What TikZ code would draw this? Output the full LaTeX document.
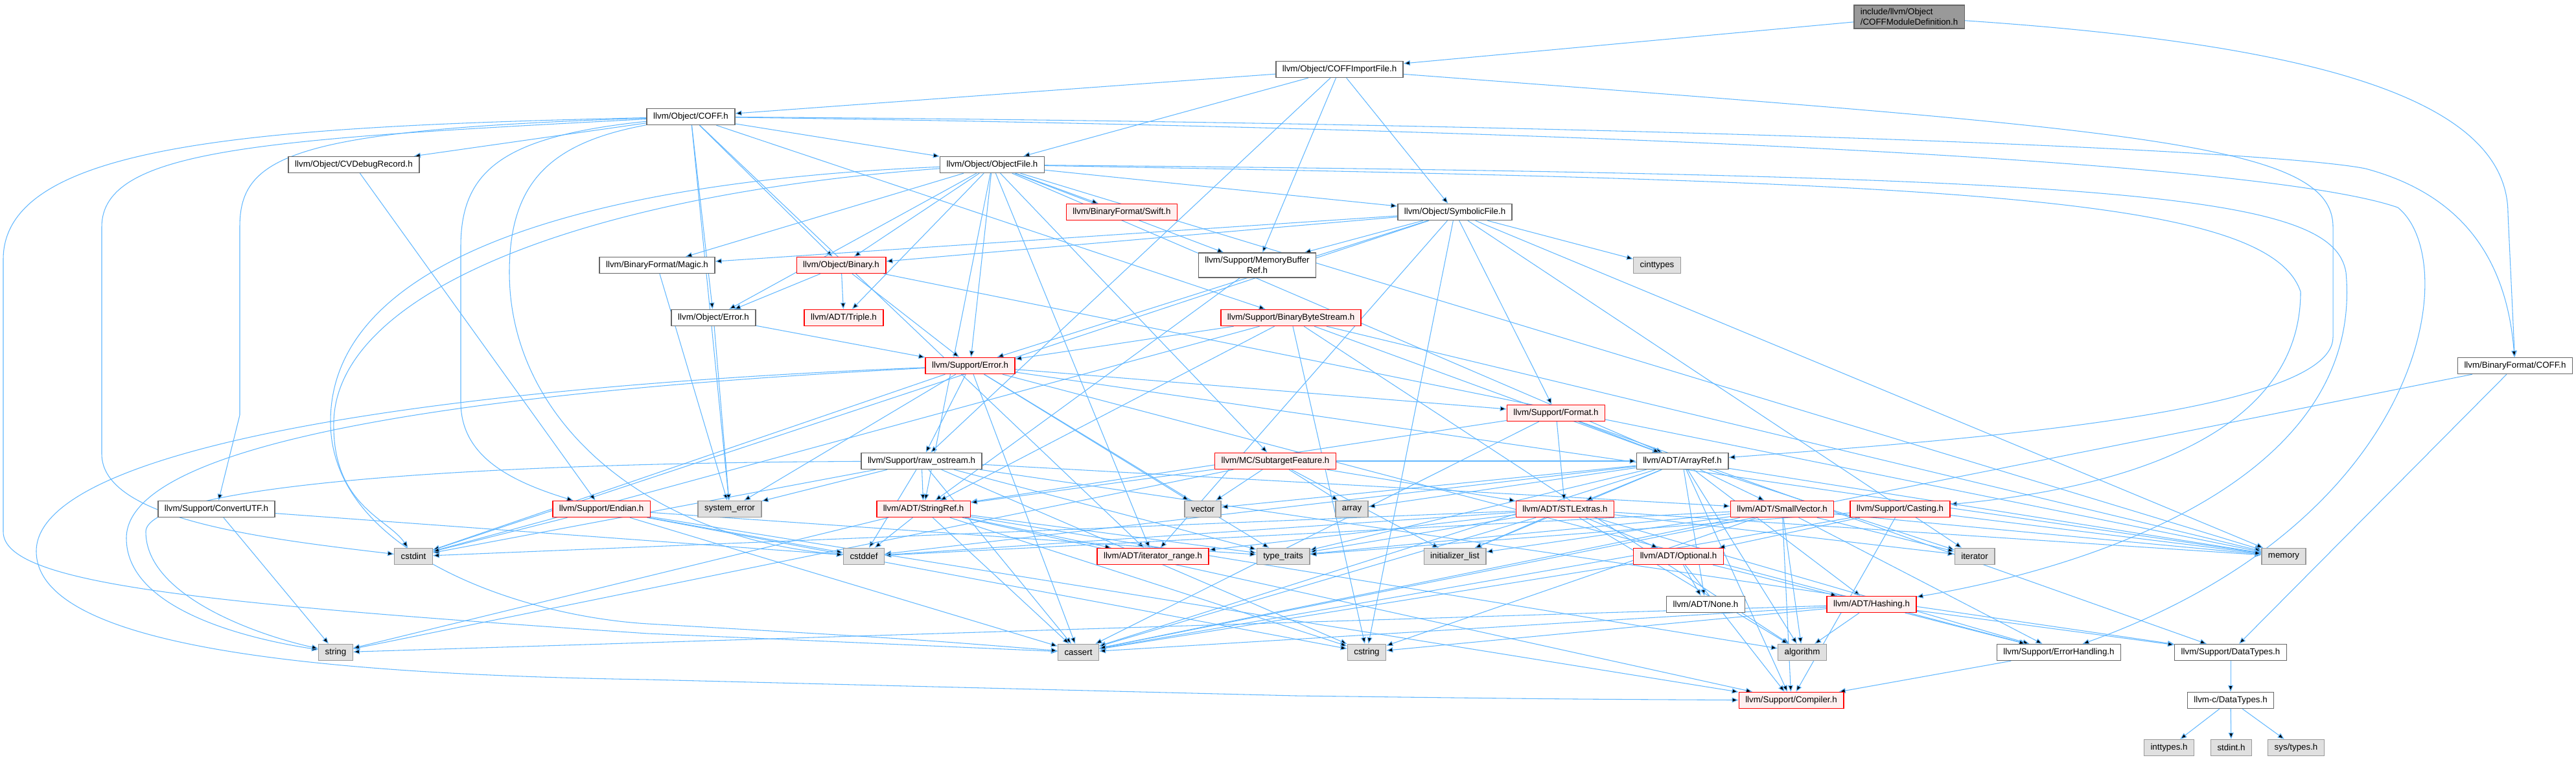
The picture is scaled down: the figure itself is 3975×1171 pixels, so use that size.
\documentclass[tikz,border=0pt]{standalone}
\usepackage{fontspec}
\setmainfont{Liberation Sans}
\usetikzlibrary{arrows.meta}
\pgfdeclarelayer{edges}
\pgfsetlayers{edges,main}
\definecolor{edgeblue}{HTML}{63B8FF}
\definecolor{truncfill}{HTML}{FFF0F0}
\definecolor{sysfill}{HTML}{E0E0E0}
\definecolor{sysline}{HTML}{999999}
\definecolor{hdrline}{HTML}{666666}
\definecolor{rootfill}{HTML}{999999}

\begin{document}
\begin{tikzpicture}[x=0.75pt, y=-0.75pt,
  font=\fontsize{10}{12}\selectfont,
  hdr/.style={draw=hdrline, fill=white, line width=1.1pt, inner xsep=7.5pt,
    inner ysep=4pt, minimum height=18.75pt},
  trunc/.style={hdr, draw=red, fill=truncfill},
  sys/.style={hdr, draw=sysline, fill=sysfill},
  root/.style={hdr, fill=rootfill, align=left},
  dep/.style={draw=edgeblue, line width=0.8pt, -{Triangle[length=7.5pt,width=6pt]}},
  route/.style={to path={#1 (\tikztotarget)}}]
  \useasboundingbox (0,0) rectangle (3975,1171);
  % the documented file
  \node[root] (moddef) at (2946,26) {include/llvm/Object\\/COFFModuleDefinition.h};
  % object headers
  \node[hdr] (importfile) at (2067,107) {llvm/Object/COFFImportFile.h};
  \node[hdr] (objcoff) at (1066,180) {llvm/Object/COFF.h};
  \node[hdr] (cvdebug) at (546,254) {llvm/Object/CVDebugRecord.h};
  \node[hdr] (objfile) at (1531,254) {llvm/Object/ObjectFile.h};
  \node[trunc] (swift) at (1731,327) {llvm/BinaryFormat/Swift.h};
  \node[hdr] (symfile) at (2245,327) {llvm/Object/SymbolicFile.h};
  \node[hdr] (magic) at (1014,409) {llvm/BinaryFormat/Magic.h};
  \node[trunc] (binary) at (1298,409) {llvm/Object/Binary.h};
  \node[hdr, align=center, inner ysep=4.5pt] (membuf) at (1940,409) {llvm/Support/MemoryBuffer\\Ref.h};
  \node[sys] (cinttypes) at (2557,409) {cinttypes};
  \node[hdr] (objerror) at (1101,490) {llvm/Object/Error.h};
  \node[trunc] (triple) at (1302,490) {llvm/ADT/Triple.h};
  \node[trunc] (bbstream) at (1992,490) {llvm/Support/BinaryByteStream.h};
  % support headers
  \node[trunc] (superror) at (1497,564) {llvm/Support/Error.h};
  \node[hdr] (bfcoff) at (3881,564) {llvm/BinaryFormat/COFF.h};
  \node[trunc] (format) at (2401,637) {llvm/Support/Format.h};
  \node[hdr] (rawos) at (1422,711) {llvm/Support/raw\_ostream.h};
  \node[trunc] (subtarget) at (1968,711) {llvm/MC/SubtargetFeature.h};
  \node[hdr] (arrayref) at (2596,711) {llvm/ADT/ArrayRef.h};
  \node[hdr] (convutf) at (334,785) {llvm/Support/ConvertUTF.h};
  \node[trunc] (endian) at (928,785) {llvm/Support/Endian.h};
  \node[sys] (syserr) at (1126,785) {system\_error};
  \node[trunc] (stringref) at (1425,785) {llvm/ADT/StringRef.h};
  \node[sys] (vector) at (1856,785) {vector};
  \node[sys] (array) at (2086,785) {array};
  \node[trunc] (stlextras) at (2415,785) {llvm/ADT/STLExtras.h};
  \node[trunc] (smallvec) at (2750,785) {llvm/ADT/SmallVector.h};
  \node[trunc] (casting) at (2932,785) {llvm/Support/Casting.h};
  \node[sys] (cstdint) at (638,858) {cstdint};
  \node[sys] (cstddef) at (1333,858) {cstddef};
  \node[trunc] (iterrange) at (1779,858) {llvm/ADT/iterator\_range.h};
  \node[sys] (typetraits) at (1980,858) {type\_traits};
  \node[sys] (initlist) at (2245,858) {initializer\_list};
  \node[trunc] (optional) at (2590,858) {llvm/ADT/Optional.h};
  \node[sys] (iterator) at (3047,858) {iterator};
  \node[sys] (memory) at (3524,858) {memory};
  \node[hdr] (none) at (2632,932) {llvm/ADT/None.h};
  \node[trunc] (hashing) at (2888,932) {llvm/ADT/Hashing.h};
  \node[sys] (string) at (518,1006) {string};
  \node[sys] (cassert) at (1664,1006) {cassert};
  \node[sys] (cstring) at (2109,1006) {cstring};
  \node[sys] (algorithm) at (2781,1006) {algorithm};
  \node[hdr] (errhandling) at (3177,1006) {llvm/Support/ErrorHandling.h};
  \node[hdr] (datatypes) at (3442,1006) {llvm/Support/DataTypes.h};
  \node[trunc] (compiler) at (2764,1080) {llvm/Support/Compiler.h};
  \node[hdr] (cdatatypes) at (3442,1080) {llvm-c/DataTypes.h};
  \node[sys] (inttypes) at (3347,1153) {inttypes.h};
  \node[sys] (stdint) at (3443,1153) {stdint.h};
  \node[sys] (systypes) at (3543,1153) {sys/types.h};
  \begin{pgfonlayer}{edges}
  % includes of COFFModuleDefinition.h
  \path[dep] (moddef) edge (importfile)
    edge[route={.. controls (3600,70) and (3870,160) .. (3870,330) --}] (bfcoff);
  % includes of COFFImportFile.h
  \path[dep] (importfile) edge (objcoff) edge (objfile) edge (symfile)
    edge (membuf) edge (rawos)
    edge[route={.. controls (3300,200) and (3600,220) .. (3600,350) -- (3600,520)
      .. controls (3600,640) and (3000,680) ..}] (arrayref);
  % includes of Object/COFF.h
  \path[dep] (objcoff) edge (cvdebug) edge (objfile) edge (binary)
    edge (objerror) edge (bbstream) edge (iterrange) edge (syserr)
    edge[route={.. controls (450,200) and (370,240) .. (370,350) -- (370,640) --}] (convutf)
    edge[route={.. controls (780,210) and (711,260) .. (711,380) -- (711,620)
      .. controls (711,700) and (780,740) ..}] (endian)
    edge[route={.. controls (850,220) and (786,280) .. (786,420)
      .. controls (786,650) and (1000,830) ..}] (cstddef)
    edge[route={.. controls (400,215) and (157,230) .. (157,350) -- (157,700)
      .. controls (157,800) and (400,830) ..}] (cstdint)
    edge[route={.. controls (400,195) and (5,220) .. (5,400) -- (5,820)
      .. controls (5,900) and (300,930) .. (1000,977) .. controls (1300,990) ..}] (cassert)
    edge[route={.. controls (2500,190) and (3500,230) .. (3650,260)
      .. controls (3800,300) and (3868,400) ..}] (bfcoff)
    edge[route={.. controls (2500,200) and (3500,250) .. (3700,320)
      .. controls (3800,400) and (3750,800) ..}] (errhandling);
  % includes of ObjectFile.h
  \path[dep] (objfile) edge (arrayref) edge (stringref)
    edge (triple) edge (iterrange) edge (magic) edge (swift) edge (binary)
    edge (objerror) edge (symfile) edge (superror)
    edge (membuf) edge (subtarget) edge (memory)
    edge[route={.. controls (900,280) and (510,400) .. (510,650)
      .. controls (510,850) and (800,950) .. (1000,962) .. controls (1400,985) ..}] (cassert)
    edge[route={.. controls (900,300) and (520,450) .. (515,650)
      .. controls (512,780) and (600,800) ..}] (cstdint)
    edge[route={.. controls (3300,270) and (3600,300) .. (3620,420)
      .. controls (3650,750) and (3200,880) ..}] (hashing)
    edge[route={.. controls (3000,280) and (3500,300) .. (3550,450)
      .. controls (3550,700) and (3200,760) ..}] (casting);
  % includes of SymbolicFile.h
  \path[dep] (symfile) edge (iterrange) edge (magic) edge (binary)
    edge (superror) edge (format) edge (membuf) edge (cinttypes)
    edge (cstdint) edge (cstring) edge (iterator) edge (memory);
  % includes of Binary.h, Magic.h, CVDebugRecord.h, MemoryBufferRef.h
  \path[dep] (binary) edge (triple) edge (objerror) edge (superror) edge (memory);
  \path[dep] (magic) edge (syserr);
  \path[dep] (cvdebug) edge (endian);
  \path[dep] (membuf) edge (stringref);
  % includes of Object/Error.h
  \path[dep] (objerror) edge (superror) edge (syserr);
  % includes of BinaryByteStream.h
  \path[dep] (bbstream) edge (arrayref) edge (stringref) edge (superror)
    edge (cstdint) edge (cstring) edge (memory) edge (algorithm);
  % includes of Support/Error.h
  \path[dep] (superror) edge (errhandling) edge (format)
    edge (rawos) edge (cassert) edge (cstdint) edge (memory)
    edge (syserr) edge (typetraits) edge (vector)
    edge[route={.. controls (600,600) and (56,700) .. (56,850)
      .. controls (56,1000) and (500,1040) .. (1000,1048) -- (2000,1073)
      .. controls (2400,1078) ..}] (compiler)
    edge[route={.. controls (600,610) and (195,700) .. (195,830)
      .. controls (195,930) and (350,980) ..}] (string);
  % includes of raw_ostream.h
  \path[dep] (rawos) edge (smallvec) edge (stringref) edge (datatypes)
    edge (cassert) edge (cstddef) edge (cstdint) edge (cstring)
    edge (syserr) edge (typetraits)
    edge[route={.. controls (600,715) and (225,760) .. (225,820)
      .. controls (225,920) and (400,980) ..}] (string);
  % includes of Format.h
  \path[dep] (format) edge (arrayref) edge (stlextras) edge (stringref)
    edge (datatypes) edge (cassert);
  % includes of SubtargetFeature.h
  \path[dep] (subtarget) edge (arrayref) edge (stlextras) edge (stringref)
    edge (array) edge (initlist) edge (string) edge (vector);
  % includes of ArrayRef.h
  \path[dep] (arrayref) edge (hashing) edge (none) edge (smallvec)
    edge (stlextras) edge (compiler) edge (algorithm) edge (array)
    edge (cassert) edge (cstddef) edge (initlist) edge (iterator)
    edge (memory) edge (typetraits) edge (vector);
  % includes of StringRef.h
  \path[dep] (stringref) edge (iterrange) edge (compiler) edge (algorithm)
    edge (cassert) edge (cstddef) edge (cstring) edge (string) edge (typetraits);
  % includes of STLExtras.h
  \path[dep] (stlextras) edge (optional) edge (iterrange) edge (errhandling)
    edge (algorithm) edge (cassert) edge (cstddef) edge (cstdint)
    edge (initlist) edge (iterator) edge (memory) edge (typetraits);
  % includes of SmallVector.h
  \path[dep] (smallvec) edge (compiler) edge (typetraits) edge (algorithm)
    edge (cassert) edge (cstddef) edge (cstring) edge (initlist)
    edge (iterator) edge (memory) edge (errhandling);
  % includes of Casting.h and Optional.h
  \path[dep] (casting) edge (optional) edge (compiler) edge (typetraits)
    edge (cassert) edge (memory);
  \path[dep] (optional) edge (hashing) edge (none) edge (compiler) edge (cassert);
  % includes of Hashing.h
  \path[dep] (hashing) edge (errhandling) edge (datatypes) edge (algorithm)
    edge (cassert) edge (cstring) edge (string);
  % includes of Endian.h and ConvertUTF.h
  \path[dep] (endian) edge (compiler) edge (cassert) edge (cstddef)
    edge (cstdint) edge (cstring) edge (typetraits);
  \path[dep] (convutf) edge (cstddef) edge (string);
  % lowest level
  \path[dep] (errhandling) edge (compiler);
  \path[dep] (bfcoff) edge (datatypes) edge (cassert);
  \path[dep] (datatypes) edge (cdatatypes);
  \path[dep] (cdatatypes) edge (inttypes) edge (stdint) edge (systypes);
  \end{pgfonlayer}
\end{tikzpicture}
\end{document}
